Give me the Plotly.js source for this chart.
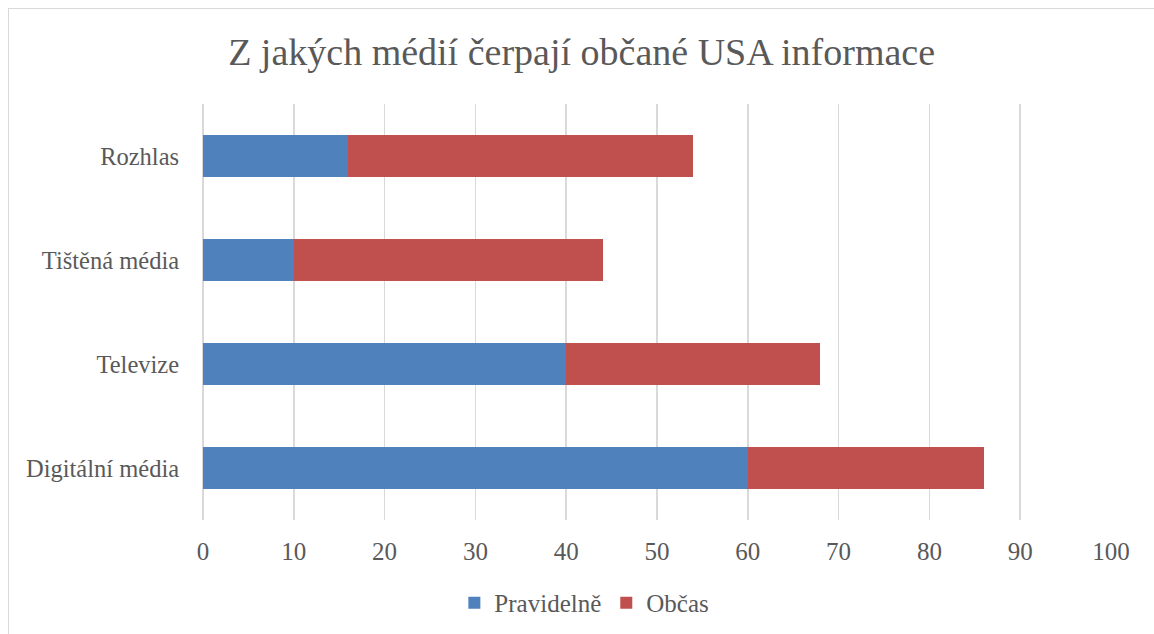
<!DOCTYPE html>
<html><head><meta charset="utf-8">
<script src="https://cdn.plot.ly/plotly-3.0.1.min.js"></script>
<style>
html,body{margin:0;padding:0;background:#fff;}
#wrap{position:relative;width:1154px;height:634px;}
#chart{position:absolute;left:0;top:0;width:1154px;height:634px;}
#frame{position:absolute;left:8px;top:8px;width:1160px;height:640px;border-left:1.5px solid #d9d9d9;border-top:1.5px solid #d9d9d9;pointer-events:none;}
</style></head>
<body><div id="wrap"><div id="chart"></div><div id="frame"></div></div>
<script>
const categories = ["Digitální média", "Televize", "Tištěná média", "Rozhlas"];
const pravidelne = [60, 40, 10, 16];
const obcas = [26, 28, 34, 38];
const seriesNames = ["Pravidelně", "Občas"];
const xTicks = [0, 10, 20, 30, 40, 50, 60, 70, 80, 90, 100];
const titleText = "Z jakých médií čerpají občané USA informace";

const font = "Liberation Serif, Cambria, serif";
const txt = "#595959";

const data = [
  {type:"bar", orientation:"h", name:seriesNames[0], y:categories, x:pravidelne,
   marker:{color:"#4F81BD", line:{width:0}}, hoverinfo:"x+y"},
  {type:"bar", orientation:"h", name:seriesNames[1], y:categories, x:obcas,
   marker:{color:"#C0504D", line:{width:0}}, hoverinfo:"x+y"}
];
const layout = {
  width:1154, height:634,
  margin:{l:203, r:43, t:104, b:114, autoexpand:false},
  paper_bgcolor:"#fff", plot_bgcolor:"#fff",
  barmode:"stack", bargap:0.6,
  font:{family:font, color:txt, size:25},
  title:{text:titleText, font:{family:font, size:38, color:txt}, x:0.504, xanchor:"center", y:0.919, yanchor:"middle"},
  xaxis:{range:[0,100], tickvals:xTicks, ticktext:xTicks.map(String), showgrid:true, gridcolor:"#d9d9d9", gridwidth:1.5,
         zeroline:true, zerolinecolor:"#d9d9d9", zerolinewidth:1.5, showline:false, automargin:false,
         ticks:"outside", ticklen:9, tickcolor:"rgba(0,0,0,0)", tickfont:{size:25, color:txt}, fixedrange:true},
  yaxis:{type:"category", showgrid:false, showline:false, zeroline:false, automargin:false,
         ticks:"outside", ticklen:18, tickcolor:"rgba(0,0,0,0)", tickfont:{size:24.5, color:txt}, fixedrange:true},
  showlegend:true,
  legend:{orientation:"h", x:0.42, xanchor:"center", yref:"container", y:0.049, yanchor:"middle", font:{size:25, color:txt}, traceorder:"normal", itemwidth:30},
};
Plotly.newPlot("chart", data, layout, {displayModeBar:false, staticPlot:true});
</script></body></html>
